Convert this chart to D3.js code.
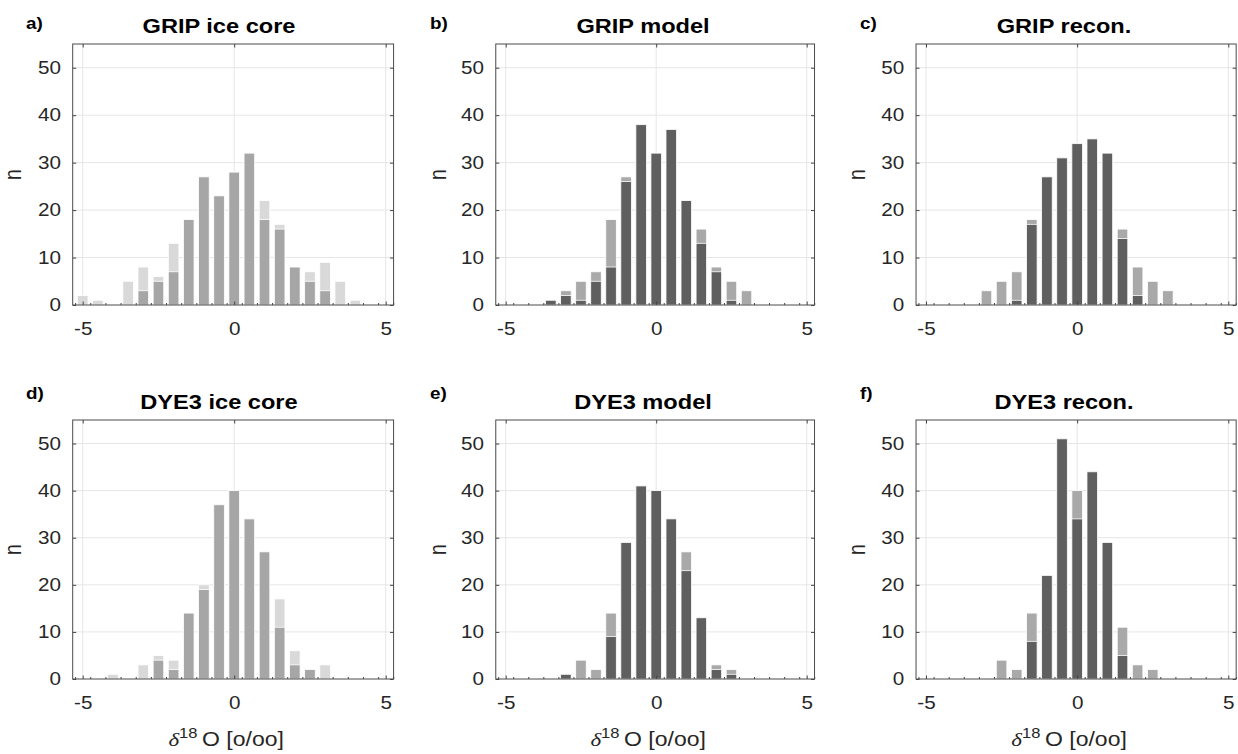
<!DOCTYPE html>
<html lang="en">
<head>
<meta charset="utf-8">
<title>delta18O histograms</title>
<script src="https://d3js.org/d3.v7.min.js"></script>
<style>
  body { margin: 0; background: #fff; }
  text { font-family: "Liberation Sans", Arial, Helvetica, sans-serif; }
</style>
</head>
<body>
<script>
// bin centres of the histograms (o/oo)
var bins = [-5, -4.5, -4, -3.5, -3, -2.5, -2, -1.5, -1, -0.5, 0, 0.5, 1, 1.5, 2, 2.5, 3, 3.5, 4, 4.5, 5];
var xTicks = [-5, 0, 5];
var yTicks = [0, 10, 20, 30, 40, 50];

var panelLetters = ["a)", "b)", "c)", "d)", "e)", "f)"];
var panelTitles = ["GRIP ice core", "GRIP model", "GRIP recon.", "DYE3 ice core", "DYE3 model", "DYE3 recon."];

// front = darker bars, back = lighter bars behind them
var gripCoreFront  = [0, 0, 0, 0, 3, 5, 7, 18, 27, 23, 28, 32, 18, 16, 8, 5, 3, 0, 0, 0, 0];
var gripCoreBack   = [2, 1, 0, 5, 8, 6, 13, 18, 27, 23, 28, 32, 22, 17, 8, 7, 9, 5, 1, 0, 0];
var gripModelFront = [0, 0, 0, 1, 2, 1, 5, 8, 26, 38, 32, 37, 22, 13, 7, 1, 0, 0, 0, 0, 0];
var gripModelBack  = [0, 0, 0, 1, 3, 5, 7, 18, 27, 38, 32, 37, 22, 16, 8, 5, 3, 0, 0, 0, 0];
var gripReconFront = [0, 0, 0, 0, 0, 0, 1, 17, 27, 31, 34, 35, 32, 14, 2, 0, 0, 0, 0, 0, 0];
var gripReconBack  = [0, 0, 0, 0, 3, 5, 7, 18, 27, 31, 34, 35, 32, 16, 8, 5, 3, 0, 0, 0, 0];
var dyeCoreFront   = [0, 0, 0, 0, 0, 4, 2, 14, 19, 37, 40, 34, 27, 11, 3, 2, 0, 0, 0, 0, 0];
var dyeCoreBack    = [0, 0, 1, 0, 3, 5, 4, 14, 20, 37, 40, 34, 27, 17, 6, 2, 3, 0, 0, 0, 0];
var dyeModelFront  = [0, 0, 0, 0, 1, 0, 0, 9, 29, 41, 40, 34, 23, 13, 2, 1, 0, 0, 0, 0, 0];
var dyeModelBack   = [0, 0, 0, 0, 1, 4, 2, 14, 29, 41, 40, 34, 27, 13, 3, 2, 0, 0, 0, 0, 0];
var dyeReconFront  = [0, 0, 0, 0, 0, 0, 0, 8, 22, 51, 34, 44, 29, 5, 0, 0, 0, 0, 0, 0, 0];
var dyeReconBack   = [0, 0, 0, 0, 0, 4, 2, 14, 22, 51, 40, 44, 29, 11, 3, 2, 0, 0, 0, 0, 0];

var fronts = [gripCoreFront, gripModelFront, gripReconFront, dyeCoreFront, dyeModelFront, dyeReconFront];
var backs  = [gripCoreBack, gripModelBack, gripReconBack, dyeCoreBack, dyeModelBack, dyeReconBack];

// ice core panels are lighter greys, model / recon panels darker
var palette = [
  {front: "#a6a6a6", back: "#d9d9d9"},
  {front: "#5f5f5f", back: "#a9a9a9"},
  {front: "#5f5f5f", back: "#a9a9a9"}
];

var SX = 1.18;        // glyphs in the figure are a bit wide
var barW = 0.35;      // bar width in data units
var xLo = -5.33, xHi = 5.26;

var cols = [
  {m5: 82.7,  p5: 385.7,  title: 219,  letter: 26,  ylab: 15},
  {m5: 505.7, p5: 806.7,  title: 643,  letter: 430, ylab: 440},
  {m5: 926,   p5: 1228.3, title: 1064, letter: 860, ylab: 859}
];
var rows = [
  {top: 44,  bottom: 305, titleY: 33,  letterY: 29},
  {top: 420, bottom: 679, titleY: 409, letterY: 399}
];

var svg = d3.select("body").append("svg")
  .attr("width", 1238)
  .attr("height", 754)
  .style("background", "#fff");

function scaledText(parent, x, y, str) {
  return parent.append("text")
    .attr("transform", "translate(" + x + "," + y + ") scale(" + SX + ",1)")
    .text(str);
}

var minorTicks = bins.map(function(b) { return b - 0.25; }).concat([bins[bins.length - 1] + 0.25]);

panelTitles.forEach(function(title, i) {
  var c = cols[i % 3], r = rows[Math.floor(i / 3)], pal = palette[i % 3];

  var x = d3.scaleLinear().domain([-5, 5]).range([c.m5, c.p5]);
  var y = d3.scaleLinear().domain([0, 55]).range([r.bottom, r.top]);
  var left = x(xLo), right = x(xHi);

  var g = svg.append("g");

  // grid
  g.append("g").selectAll("line").data(yTicks.slice(1)).enter().append("line")
    .attr("x1", left).attr("x2", right)
    .attr("y1", function(d) { return y(d); }).attr("y2", function(d) { return y(d); })
    .attr("stroke", "#e6e6e6").attr("stroke-width", 1);
  g.append("g").selectAll("line").data(xTicks).enter().append("line")
    .attr("x1", function(d) { return x(d); }).attr("x2", function(d) { return x(d); })
    .attr("y1", r.top).attr("y2", r.bottom)
    .attr("stroke", "#e6e6e6").attr("stroke-width", 1);

  // bars: back series first, front series over it
  [[backs[i], pal.back], [fronts[i], pal.front]].forEach(function(s) {
    g.append("g").selectAll("rect")
      .data(bins.map(function(b, k) { return {b: b, n: s[0][k]}; }).filter(function(d) { return d.n > 0; }))
      .enter().append("rect")
      .attr("x", function(d) { return x(d.b - barW / 2); })
      .attr("width", function(d) { return x(d.b + barW / 2) - x(d.b - barW / 2); })
      .attr("y", function(d) { return y(d.n); })
      .attr("height", function(d) { return y(0) - y(d.n); })
      .attr("fill", s[1])
      .attr("stroke", "#fff")
      .attr("stroke-width", 0.8);
  });

  // axes with inward ticks
  var xb = g.append("g").attr("transform", "translate(0," + r.bottom + ")")
    .call(d3.axisBottom(x).tickValues(xTicks).tickSize(-3.5).tickPadding(18).tickFormat(function(d) { return String(d); }));
  var xm = g.append("g").attr("transform", "translate(0," + r.bottom + ")")
    .call(d3.axisBottom(x).tickValues(minorTicks).tickSize(-2).tickFormat(""));
  var xt = g.append("g").attr("transform", "translate(0," + r.top + ")")
    .call(d3.axisTop(x).tickValues(xTicks).tickSize(-3.5).tickFormat(""));
  var yl = g.append("g").attr("transform", "translate(" + left + ",0)")
    .call(d3.axisLeft(y).tickValues(yTicks).tickSize(-3.5).tickPadding(10));
  var yr = g.append("g").attr("transform", "translate(" + right + ",0)")
    .call(d3.axisRight(y).tickValues(yTicks).tickSize(-3.5).tickFormat(""));

  [xb, xm, xt, yl, yr].forEach(function(a) {
    a.select(".domain").remove();
    a.selectAll(".tick line").attr("stroke", "#444");
  });
  [xb, yl].forEach(function(a) {
    a.selectAll("text")
      .attr("font-family", "'Liberation Sans', Arial, sans-serif")
      .attr("font-size", 17.5)
      .attr("fill", "#262626")
      .attr("transform", "scale(" + SX + ",1)");
  });

  // box
  g.append("rect")
    .attr("x", left).attr("y", r.top)
    .attr("width", right - left).attr("height", r.bottom - r.top)
    .attr("fill", "none").attr("stroke", "#4a4a4a").attr("stroke-width", 1);

  // title and panel letter
  scaledText(g, c.title, r.titleY, title)
    .attr("text-anchor", "middle").attr("font-size", 20).attr("font-weight", "bold").attr("fill", "#000");
  scaledText(g, c.letter, r.letterY, panelLetters[i])
    .attr("font-size", 16).attr("font-weight", "bold").attr("fill", "#000");

  // y label
  g.append("text")
    .attr("transform", "translate(" + (c.ylab + 6) + "," + ((r.top + r.bottom) / 2) + ") rotate(-90) scale(1," + SX + ")")
    .attr("text-anchor", "middle")
    .attr("font-size", 19.5).attr("fill", "#262626")
    .text("n");

  // x label on bottom row
  if (i >= 3) {
    var xl = g.append("text")
      .attr("transform", "translate(" + ((left + right) / 2 - 7) + ",746) scale(" + SX + ",1)")
      .attr("text-anchor", "middle")
      .attr("font-size", 19.5).attr("fill", "#262626");
    xl.append("tspan").attr("font-family", "'Liberation Serif', serif").attr("font-style", "italic").text("\u03b4");
    xl.append("tspan").attr("font-size", 14).attr("dy", -8).text("18");
    xl.append("tspan").attr("dy", 8).text("\u2009O [o/oo]");
  }
});
</script>
</body>
</html>
